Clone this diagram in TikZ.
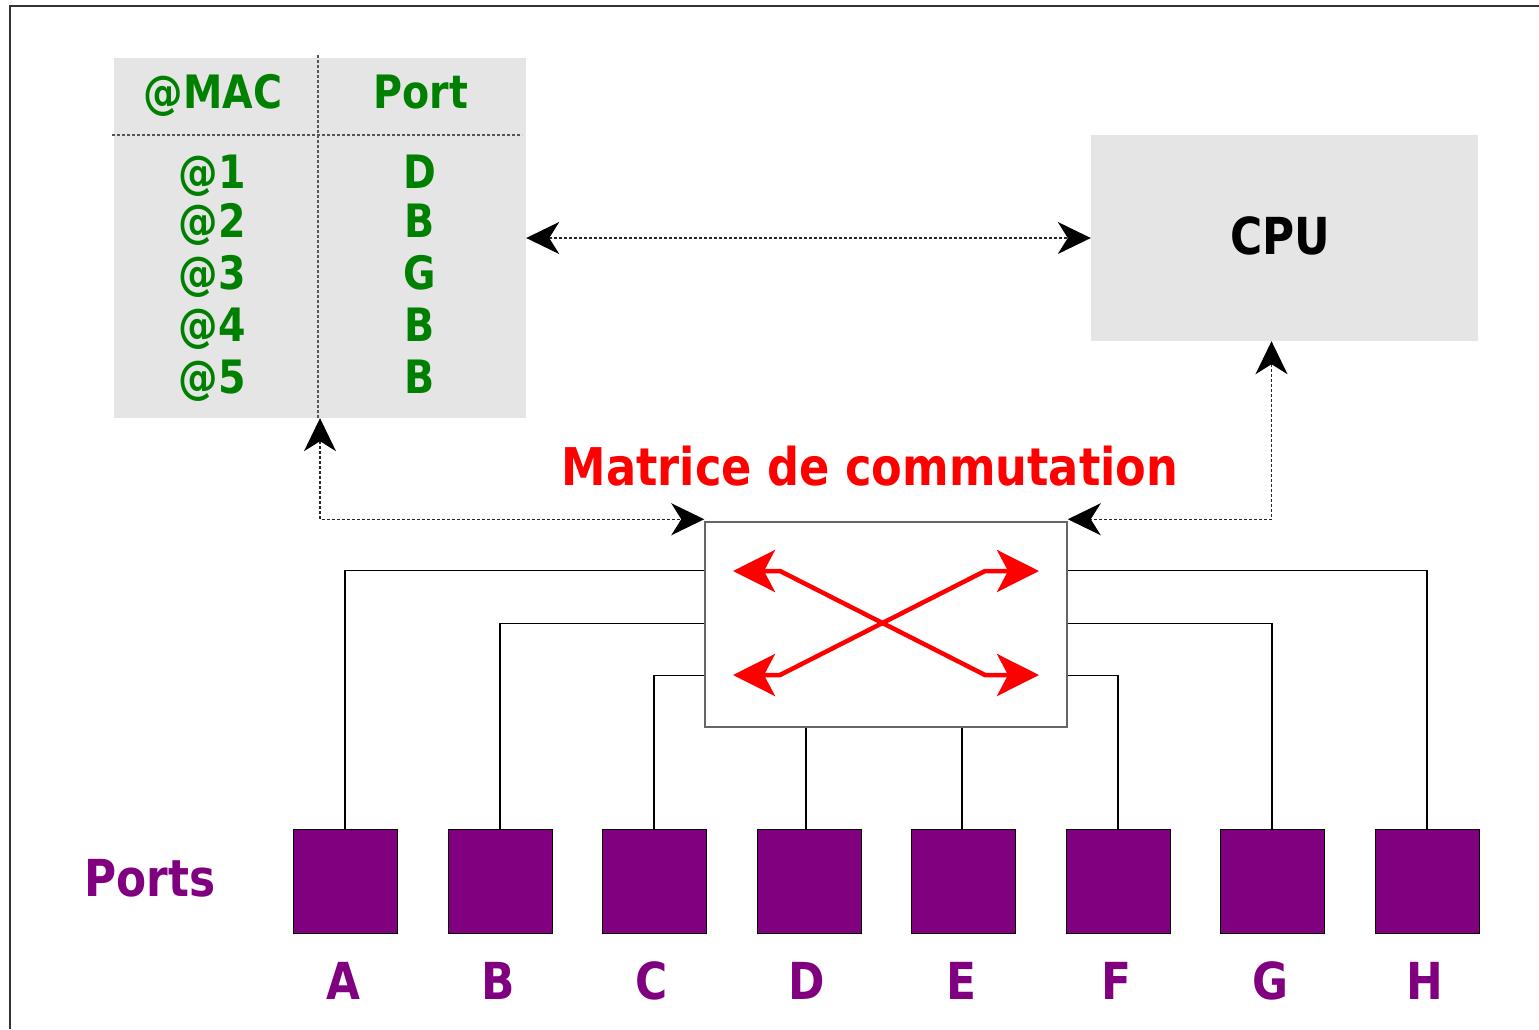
\documentclass[tikz,border=0pt]{standalone}
\usepackage{fontspec}
\setmainfont{DejaVu Sans}[FakeStretch=0.86]
\usetikzlibrary{arrows.meta}
\definecolor{boxgray}{HTML}{E5E5E5}
\definecolor{mgreen}{HTML}{008000}
\definecolor{mpurple}{HTML}{800080}
\definecolor{lgray}{HTML}{555555}
\tikzset{
  graybox/.style={fill=boxgray,draw=none,inner sep=0pt},
  tabtxt/.style={anchor=base,inner sep=0pt,text=mgreen,font=\fontsize{46pt}{46pt}\selectfont\bfseries},
  lbltxt/.style={anchor=base,inner sep=0pt,text=mpurple,font=\fontsize{51pt}{51pt}\selectfont\bfseries},
  portbox/.style={fill=mpurple,draw=black,line width=1pt,minimum width=104pt,minimum height=104pt,inner sep=0pt},
  dashln/.style={draw=lgray,line width=1.3pt,dash pattern=on 3pt off 2pt},
  blacktip/.tip={Stealth[length=33pt,width=32pt,inset=10pt,color=black,fill=black]},
  redtip/.tip={Stealth[length=42pt,width=42pt,inset=11pt]},
  darrow/.style={draw=black!85,line width=1.3pt,dash pattern=on 3pt off 2pt,blacktip-blacktip},
  conn/.style={draw=black,line width=1.2pt},
  redarr/.style={draw=red,line width=4.5pt,redtip-redtip},
}
\begin{document}
\begin{tikzpicture}[x=1pt,y=-1pt]
\useasboundingbox (0,0) rectangle (1539,1029);
% frame
\draw[draw=black!80,line width=1.5pt] (10,1029) -- (10,6) -- (1539,6);
% table
\node[graybox,minimum width=412pt,minimum height=360pt] (table) at (320,238) {};
\draw[dashln] (318,55) -- (318,418);
\draw[dashln] (112,135) -- (522,135);
\node[tabtxt] (hmac) at (213,108) {@MAC};
\node[tabtxt] (hport) at (421,108) {Port};
\node[tabtxt] (m1) at (212,188) {@1};
\node[tabtxt] (m2) at (212,237) {@2};
\node[tabtxt] (m3) at (212,289) {@3};
\node[tabtxt] (m4) at (212,341) {@4};
\node[tabtxt] (m5) at (212,393) {@5};
\node[tabtxt] (p1) at (420,188) {D};
\node[tabtxt] (p2) at (420,237) {B};
\node[tabtxt] (p3) at (420,289) {G};
\node[tabtxt] (p4) at (420,341) {B};
\node[tabtxt] (p5) at (420,393) {B};
% cpu
\node[graybox,minimum width=387pt,minimum height=206pt] (cpu) at (1284.5,238) {};
\node[anchor=base,inner sep=0pt,font=\fontsize{51pt}{51pt}\selectfont\bfseries] (cputxt) at (1280,254) {CPU};
% switch
\node[draw=black!60,line width=1.5pt,fill=white,minimum width=362pt,minimum height=205pt,inner sep=0pt] (sw) at (886,624.5) {};
\node[anchor=base,inner sep=0pt,text=red,font=\fontsize{52pt}{52pt}\selectfont\bfseries] (mtitle) at (870,485) {Matrice de commutation};
% red arrows
\draw[redarr] (733,571) -- (780,571) -- (985,675) -- (1039,675);
\draw[redarr] (733,675) -- (780,675) -- (985,571) -- (1039,571);
% dashed arrows
\draw[darrow] (table.east) -- (cpu.west);
\draw[darrow] (table.south) |- ([yshift=2pt]sw.north west);
\draw[darrow] ([xshift=-13pt]cpu.south) |- ([yshift=2pt]sw.north east);
% ports
\node[lbltxt] (ports) at (150,896) {Ports};
\foreach \n/\x in {A/345,B/500,C/654,D/809,E/963,F/1118,G/1272,H/1427}{
  \node[portbox] (p\n) at (\x,881) {};
  \node[lbltxt] (l\n) at (\x-2,999) {\n};
}
% connectors
\draw[conn] (pA.north) |- ([yshift=-49pt]sw.north west);
\draw[conn] (pB.north) |- ([yshift=-102pt]sw.north west);
\draw[conn] (pC.north) |- ([yshift=-154pt]sw.north west);
\draw[conn] ([xshift=-3pt]pD.north) -- ([xshift=-3pt]pD.north |- sw.south);
\draw[conn] ([xshift=-1pt]pE.north) -- ([xshift=-1pt]pE.north |- sw.south);
\draw[conn] (pF.north) |- ([yshift=-154pt]sw.north east);
\draw[conn] (pG.north) |- ([yshift=-102pt]sw.north east);
\draw[conn] (pH.north) |- ([yshift=-49pt]sw.north east);
\end{tikzpicture}
\end{document}
